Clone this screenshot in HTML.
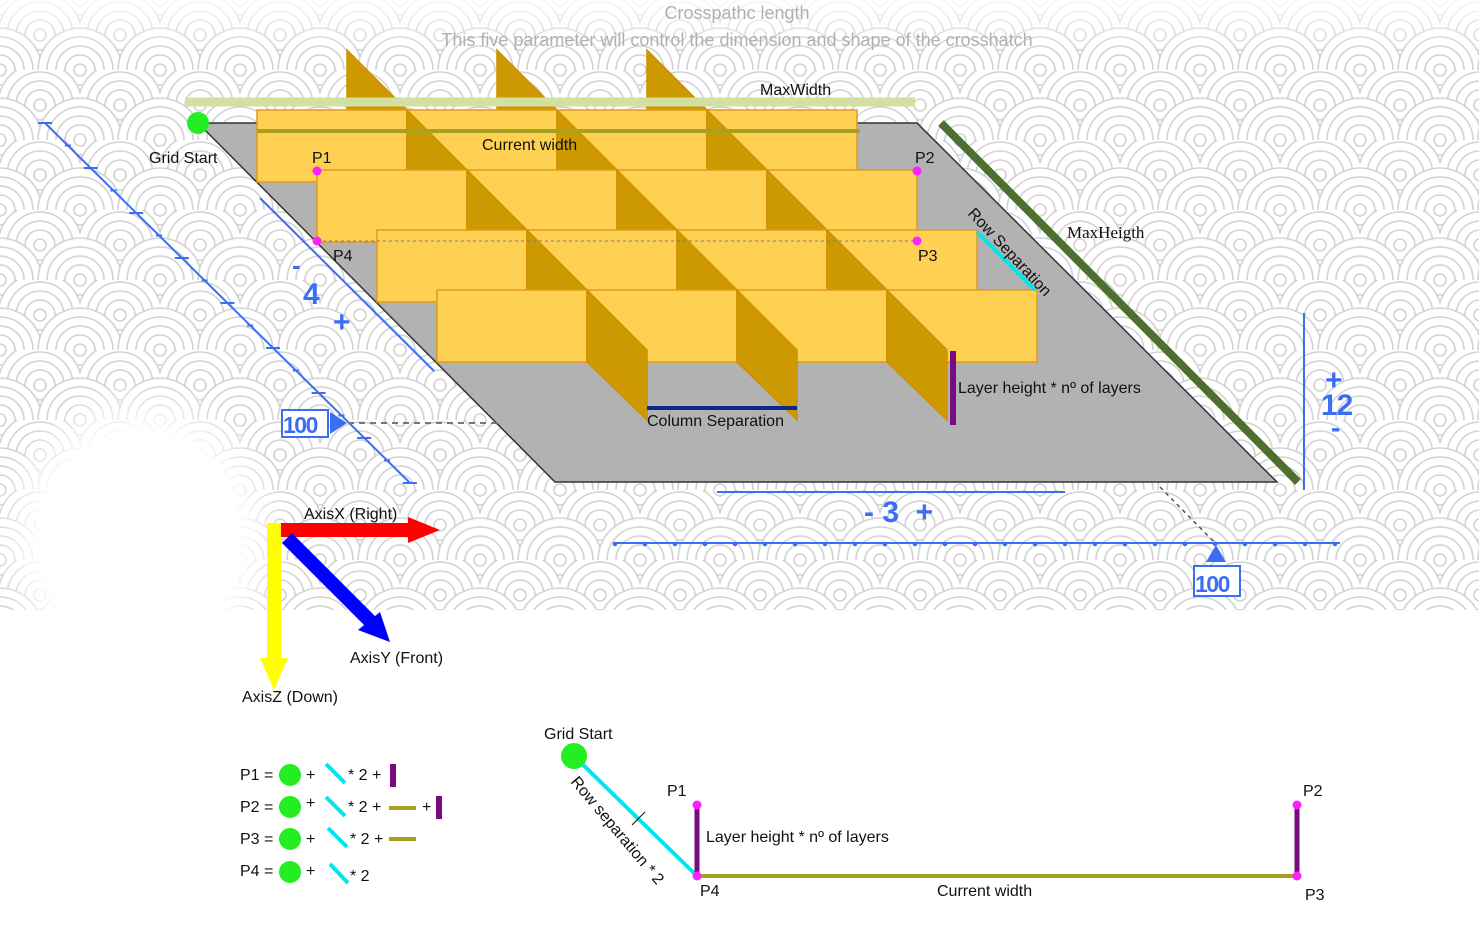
<!DOCTYPE html>
<html><head><meta charset="utf-8"><style>
html,body{margin:0;padding:0;background:#fff;}
svg{display:block;font-family:"Liberation Sans",sans-serif;}
.bl{font-weight:bold;fill:#3b6ef5;font-family:"Liberation Sans",sans-serif;}
</style></head><body>
<svg id="s" width="1479" height="944" viewBox="0 0 1479 944" xmlns="http://www.w3.org/2000/svg">
<defs>
<pattern id="scales" x="0" y="0" width="80" height="70" patternUnits="userSpaceOnUse">
<rect width="80" height="70" fill="#fafafa"/>
<g fill="#fff" stroke="#d2d2d2" stroke-width="1.6">
<circle cx="0" cy="0" r="42"/><circle cx="0" cy="0" r="33"/><circle cx="0" cy="0" r="24"/><circle cx="0" cy="0" r="15"/><circle cx="0" cy="0" r="6"/>
<circle cx="80" cy="0" r="42"/><circle cx="80" cy="0" r="33"/><circle cx="80" cy="0" r="24"/><circle cx="80" cy="0" r="15"/><circle cx="80" cy="0" r="6"/>
<circle cx="40" cy="35" r="42"/><circle cx="40" cy="35" r="33"/><circle cx="40" cy="35" r="24"/><circle cx="40" cy="35" r="15"/><circle cx="40" cy="35" r="6"/>
<circle cx="0" cy="70" r="42"/><circle cx="0" cy="70" r="33"/><circle cx="0" cy="70" r="24"/><circle cx="0" cy="70" r="15"/><circle cx="0" cy="70" r="6"/>
<circle cx="80" cy="70" r="42"/><circle cx="80" cy="70" r="33"/><circle cx="80" cy="70" r="24"/><circle cx="80" cy="70" r="15"/><circle cx="80" cy="70" r="6"/>
</g>
</pattern>
<radialGradient id="whiteBlob" cx="0.5" cy="0.5" r="0.5">
<stop offset="0.65" stop-color="#fff" stop-opacity="1"/><stop offset="1" stop-color="#fff" stop-opacity="0"/>
</radialGradient>
<linearGradient id="topFade" x1="0" y1="0" x2="0" y2="1">
<stop offset="0" stop-color="#fff" stop-opacity="0.85"/><stop offset="1" stop-color="#fff" stop-opacity="0"/>
</linearGradient>
</defs>

<rect x="0" y="0" width="1479" height="610" fill="url(#scales)"/>
<rect x="0" y="0" width="1479" height="50" fill="url(#topFade)"/>
<ellipse cx="140" cy="540" rx="150" ry="160" fill="url(#whiteBlob)"/>
<rect x="0" y="610" width="1479" height="334" fill="#fff"/>

<text x="737" y="19" text-anchor="middle" font-size="18" fill="#b0b0b0">Crosspathc length</text>
<text x="737" y="46" text-anchor="middle" font-size="18" fill="#b0b0b0">This five parameter will control the dimension and shape of the crosshatch</text>

<polygon points="198,123 917,123 1277,482 555,482" fill="#b2b2b2" stroke="#333" stroke-width="1.5"/>
<g id="boxes"></g>

<line x1="185" y1="102" x2="915" y2="102" stroke="#d3e0a2" stroke-width="9"/>
<text x="760" y="95" font-size="16" fill="#111">MaxWidth</text>
<line x1="257" y1="131" x2="860" y2="131" stroke="#a8a020" stroke-width="4"/>
<text x="482" y="150" font-size="16" fill="#111">Current width</text>
<circle cx="198" cy="123" r="11" fill="#22ee22"/>
<text x="149" y="163" font-size="16" fill="#111">Grid Start</text>

<line x1="317" y1="241" x2="917" y2="241" stroke="#6a7fb0" stroke-width="1" stroke-dasharray="3,3"/>
<circle cx="317" cy="171" r="4.5" fill="#ff22ff"/>
<circle cx="917" cy="171" r="4.5" fill="#ff22ff"/>
<circle cx="917" cy="241" r="4.5" fill="#ff22ff"/>
<circle cx="317" cy="241" r="4.5" fill="#ff22ff"/>
<text x="312" y="163" font-size="16" fill="#111">P1</text>
<text x="915" y="163" font-size="16" fill="#111">P2</text>
<text x="918" y="261" font-size="16" fill="#111">P3</text>
<text x="333" y="261" font-size="16" fill="#111">P4</text>

<line x1="977" y1="232" x2="1035" y2="290" stroke="#00e5ee" stroke-width="4"/>
<text transform="translate(967,214) rotate(47)" font-size="16" fill="#111">Row Separation</text>
<line x1="941" y1="123" x2="1298" y2="482" stroke="#4c7030" stroke-width="8"/>
<text x="1067" y="238" font-size="17" fill="#111" font-family="Liberation Serif,serif">MaxHeigth</text>
<line x1="953" y1="351" x2="953" y2="425" stroke="#7a0a80" stroke-width="6"/>
<text x="958" y="393" font-size="16" fill="#111">Layer height * nº of layers</text>
<line x1="647" y1="408" x2="797" y2="408" stroke="#0a2a8a" stroke-width="4"/>
<text x="647" y="426" font-size="16" fill="#111">Column Separation</text>

<g stroke="#3b6ef5" fill="#3b6ef5">
<line x1="45" y1="123" x2="410" y2="483" stroke-width="2"/>
<g id="leftTicks"></g>
<line x1="260" y1="198" x2="434" y2="371" stroke-width="2"/>
<rect x="282" y="410" width="46" height="27" fill="#fff" stroke-width="2"/>
<polygon points="330,412 347,423 330,434" stroke="none"/>
</g>
<text class="bl" x="292" y="274" font-size="26">-</text>
<text class="bl" x="303" y="304" font-size="30">4</text>
<text class="bl" x="333" y="332" font-size="30">+</text>
<text class="bl" x="283" y="433" font-size="23" letter-spacing="-1.5">100</text>
<line x1="348" y1="423" x2="500" y2="423" stroke="#777" stroke-width="2" stroke-dasharray="6,5"/>

<line x1="1304" y1="313" x2="1304" y2="490" stroke="#3b6ef5" stroke-width="2"/>
<text class="bl" x="1325" y="390" font-size="30">+</text>
<text class="bl" x="1321" y="415" font-size="30" letter-spacing="-1">12</text>
<text class="bl" x="1331" y="437" font-size="28">-</text>

<line x1="717" y1="492" x2="1065" y2="492" stroke="#3b6ef5" stroke-width="2"/>
<text class="bl" x="864" y="522" font-size="30" xml:space="preserve">- 3  +</text>
<g stroke="#3b6ef5" fill="#3b6ef5">
<line x1="615" y1="543" x2="1340" y2="543" stroke-width="2"/>
<g id="bottomTicks"></g>
<polygon points="1216,545 1206,562 1226,562" stroke="none"/>
<rect x="1194" y="566" width="46" height="30" fill="#fff" stroke-width="2"/>
</g>
<text class="bl" x="1195" y="592" font-size="23" letter-spacing="-1.5">100</text>
<line x1="1160" y1="487" x2="1214" y2="542" stroke="#555" stroke-width="1.5" stroke-dasharray="4,4"/>

<g>
<line x1="274" y1="523" x2="274" y2="660" stroke="#ffff00" stroke-width="14"/>
<polygon points="260,658 288,658 274,690" fill="#ffff00"/>
<line x1="281" y1="530" x2="410" y2="530" stroke="#ff0000" stroke-width="14"/>
<polygon points="408,517 440,530 408,543" fill="#ff0000"/>
<line x1="287" y1="538" x2="372" y2="623" stroke="#0000ff" stroke-width="14"/>
<polygon points="358,630 380,612 390,642" fill="#0000ff"/>
</g>
<text x="304" y="519" font-size="16" fill="#111">AxisX (Right)</text>
<text x="350" y="663" font-size="16" fill="#111">AxisY (Front)</text>
<text x="242" y="702" font-size="16" fill="#111">AxisZ (Down)</text>

<g font-size="16" fill="#111">
<text x="240" y="780">P1 =</text><circle cx="290" cy="775" r="11" fill="#22ee22"/><text x="306" y="780">+</text>
<line x1="326" y1="764" x2="345" y2="783" stroke="#00e5ee" stroke-width="4"/><text x="348" y="780">* 2 +</text>
<line x1="393" y1="764" x2="393" y2="787" stroke="#7a0a80" stroke-width="6"/>
<text x="240" y="812">P2 =</text><circle cx="290" cy="807" r="11" fill="#22ee22"/><text x="306" y="808">+</text>
<line x1="326" y1="797" x2="345" y2="816" stroke="#00e5ee" stroke-width="4"/><text x="348" y="812">* 2 +</text>
<line x1="389" y1="808" x2="416" y2="808" stroke="#a8a020" stroke-width="4"/><text x="422" y="812">+</text>
<line x1="439" y1="796" x2="439" y2="819" stroke="#7a0a80" stroke-width="6"/>
<text x="240" y="844">P3 =</text><circle cx="290" cy="839" r="11" fill="#22ee22"/><text x="306" y="844">+</text>
<line x1="328" y1="828" x2="347" y2="847" stroke="#00e5ee" stroke-width="4"/><text x="350" y="844">* 2 +</text>
<line x1="389" y1="839" x2="416" y2="839" stroke="#a8a020" stroke-width="4"/>
<text x="240" y="876">P4 =</text><circle cx="290" cy="872" r="11" fill="#22ee22"/><text x="306" y="876">+</text>
<line x1="330" y1="864" x2="348" y2="883" stroke="#00e5ee" stroke-width="4"/><text x="350" y="881">* 2</text>
</g>

<g font-size="16" fill="#111">
<line x1="574" y1="756" x2="697" y2="876" stroke="#00e5ee" stroke-width="4"/>
<line x1="632" y1="825" x2="645" y2="812" stroke="#111" stroke-width="1"/>
<circle cx="574" cy="756" r="13" fill="#22ee22"/>
<text x="544" y="739">Grid Start</text>
<text transform="translate(570,782) rotate(50)">Row separation * 2</text>
<line x1="697" y1="876" x2="1297" y2="876" stroke="#a8a020" stroke-width="4"/>
<line x1="697" y1="805" x2="697" y2="876" stroke="#7a0a80" stroke-width="5"/>
<line x1="1297" y1="805" x2="1297" y2="876" stroke="#7a0a80" stroke-width="5"/>
<circle cx="697" cy="805" r="4.5" fill="#ff22ff"/><circle cx="697" cy="876" r="4.5" fill="#ff22ff"/>
<circle cx="1297" cy="805" r="4.5" fill="#ff22ff"/><circle cx="1297" cy="876" r="4.5" fill="#ff22ff"/>
<text x="667" y="796">P1</text><text x="1303" y="796">P2</text>
<text x="700" y="896">P4</text><text x="1305" y="900">P3</text>
<text x="706" y="842">Layer height * nº of layers</text>
<text x="937" y="896">Current width</text>
</g>
</svg>
<script>
const rowStartX = [257, 317, 377, 437];
const rowTopY = [110, 170, 230, 290];
const boxesPerRow = [4, 4, 4, 4];
const finOffsets = [0, 1, 2];
const NS = 'http://www.w3.org/2000/svg';
const BW = 150, BH = 72, STEP = 60;
const g = document.getElementById('boxes');
function poly(pts, fill, stroke, name) {
  const p = document.createElementNS(NS, 'polygon');
  p.setAttribute('points', pts.map(a => a.join(',')).join(' '));
  p.setAttribute('fill', fill);
  p.setAttribute('stroke', stroke);
  p.setAttribute('stroke-width', '1.5');
  
  
  g.appendChild(p);
}
finOffsets.forEach(k => {
  const x = rowStartX[0] + BW * k + 90;
  poly([[x, rowTopY[0] - STEP], [x + STEP, rowTopY[0]], [x, rowTopY[0]]], '#cc9900', '#d09000', 'top-fin');
});
rowStartX.forEach((sx, i) => {
  const ty = rowTopY[i];
  for (let b = 0; b < boxesPerRow[i]; b++) {
    const x = sx + BW * b;
    poly([[x, ty], [x + BW, ty], [x + BW, ty + BH], [x, ty + BH]], '#ffd152', '#e09a20', 'box');
  }
  finOffsets.forEach(k => {
    const x = sx + BW * (k + 1);
    poly([[x, ty], [x + STEP, ty + STEP], [x + STEP, ty + STEP + BH - 2], [x, ty + BH]], '#cc9900', '#d09000', 'fin');
  });
});
const lt = document.getElementById('leftTicks');
for (let i = 0; i <= 16; i++) {
  const x = 45 + i * 22.8, y = 123 + i * 22.5;
  const l = document.createElementNS(NS, 'line');
  const len = i % 2 === 0 ? 7 : 3;
  l.setAttribute('x1', x - len); l.setAttribute('y1', y);
  l.setAttribute('x2', x + len); l.setAttribute('y2', y);
  l.setAttribute('stroke-width', '2');
  
  
  lt.appendChild(l);
}
const bt = document.getElementById('bottomTicks');
for (let i = 0; i <= 24; i++) {
  const x = 615 + i * 30;
  const c = document.createElementNS(NS, 'circle');
  c.setAttribute('cx', x); c.setAttribute('cy', 544); c.setAttribute('r', 1.8);
  
  
  bt.appendChild(c);
}
</script>
</body></html>
